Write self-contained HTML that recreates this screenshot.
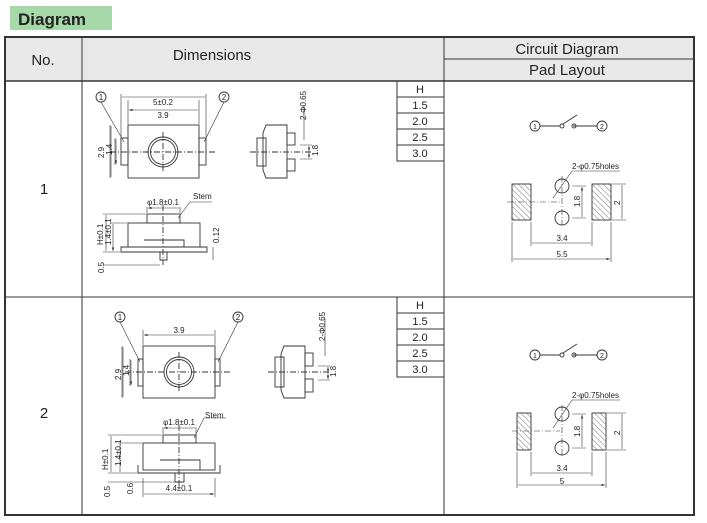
<!DOCTYPE html>
<html><head><meta charset="utf-8"><style>
html,body{margin:0;padding:0;background:#fff;}
svg{display:block;font-family:"Liberation Sans",Arial,sans-serif;}
</style></head><body>
<svg width="707" height="523" viewBox="0 0 707 523" xmlns="http://www.w3.org/2000/svg">
<defs>
<pattern id="h" width="4" height="4" patternUnits="userSpaceOnUse" patternTransform="rotate(-45)"><line x1="0" y1="0" x2="0" y2="4" stroke="#555" stroke-width="0.8"/></pattern>
<marker id="a" markerWidth="6" markerHeight="4" refX="6" refY="2" orient="auto-start-reverse"><path d="M0,0L6,2L0,4z" fill="#333"/></marker>
</defs>
<!-- title -->
<rect x="10" y="6" width="102" height="24" fill="#a7d8a9"/>
<text x="18" y="25" font-size="17" font-weight="bold" fill="#222">Diagram</text>
<!-- table -->
<rect x="5" y="37" width="689" height="44" fill="#e8e8e8"/>
<rect x="5" y="37" width="689" height="478" fill="none" stroke="#333" stroke-width="2"/>
<line x1="82" y1="37" x2="82" y2="515" stroke="#333"/>
<line x1="444" y1="37" x2="444" y2="515" stroke="#333"/>
<line x1="444" y1="59" x2="694" y2="59" stroke="#333"/>
<line x1="5" y1="81" x2="694" y2="81" stroke="#333" stroke-width="1.5"/>
<line x1="5" y1="297" x2="694" y2="297" stroke="#333"/>
<g font-size="15" fill="#222" text-anchor="middle">
<text x="43" y="65">No.</text><text x="212" y="60">Dimensions</text>
<text x="567" y="54">Circuit Diagram</text><text x="567" y="75">Pad Layout</text>
<text x="44" y="194">1</text><text x="44" y="418">2</text>
</g>
<!-- H tables -->
<g font-size="11" fill="#222" text-anchor="middle" stroke-width="1">
<g id="ht">
<path d="M397 81V161H444M397 97H444M397 113H444M397 129H444M397 145H444" stroke="#333" fill="none"/>
<text x="420" y="93">H</text><text x="420" y="109">1.5</text><text x="420" y="125">2.0</text><text x="420" y="141">2.5</text><text x="420" y="157">3.0</text>
</g>
<use href="#ht" y="216"/>
</g>
<!-- Row1 drawings -->
<g fill="none" stroke="#333" stroke-width="0.9" font-size="8" >
<rect x="128" y="125" width="71" height="53"/>
<circle cx="163" cy="152" r="15"/><circle cx="163" cy="152" r="12.5"/>
<rect x="121" y="138" width="7" height="27"/><rect x="199" y="138" width="7" height="27"/>
<path d="M110 152H216M163 132V172" stroke-dasharray="6 2 1 2"/>
<path d="M110 125V178M115 138V165M128 100V124M199 100V124M121 94V137M206 94V137" stroke-width="0.6"/>
<path d="M129 110H198M122 97H205M111 126V177M116 139V164" marker-start="url(#a)" marker-end="url(#a)" stroke-width="0.6"/>
<path d="M101 102L124 142M224 102L204 142" stroke-width="0.6"/>
<circle cx="101" cy="97" r="5"/><circle cx="224" cy="97" r="5"/>
<!-- side -->
<path d="M266 125H287V178H266L263 170V133Z"/><rect x="257" y="138" width="9" height="28"/>
<rect x="287" y="133" width="8" height="12"/><rect x="287" y="159" width="8" height="12"/>
<path d="M250 152H312" stroke-dasharray="6 2 1 2"/>
<path d="M304 105V140M300 145H312M300 159H312" stroke-width="0.6"/>
<path d="M309 146V158" marker-start="url(#a)" marker-end="url(#a)" stroke-width="0.6"/>
<!-- front -->
<rect x="128" y="223" width="72" height="24"/><rect x="147" y="214" width="33" height="9"/>
<path d="M121 247H207V252H121Z M144 240H184V247 M160 252V260H167V252"/>
<path d="M163 205V265" stroke-dasharray="6 2 1 2"/>
<path d="M103 214H146M110 223H127M103 252H120M103 265H160M147 207V213M180 207V213M213 247V260" stroke-width="0.6"/>
<path d="M148 208H179M106 215V251M113 224V251" marker-start="url(#a)" marker-end="url(#a)" stroke-width="0.6"/>
<path d="M178 218L190 202H212" stroke-width="0.6"/>
</g>
<g font-size="8" fill="#222">
<text x="101" y="100" text-anchor="middle">1</text><text x="224" y="100" text-anchor="middle">2</text>
<text x="163" y="105" text-anchor="middle">5±0.2</text><text x="163" y="118" text-anchor="middle">3.9</text>
<text transform="translate(104,158) rotate(-90)">2.9</text><text transform="translate(112,155) rotate(-90)">1.4</text>
<text transform="translate(306,120) rotate(-90)">2-Φ0.65</text><text transform="translate(318,156) rotate(-90)">1.8</text>
<text x="163" y="205" text-anchor="middle">φ1.8±0.1</text><text x="193" y="199">Stem</text>
<text transform="translate(103,245) rotate(-90)">H±0.1</text><text transform="translate(111,245) rotate(-90)">1.4±0.1</text>
<text transform="translate(219,243) rotate(-90)">0.12</text><text transform="translate(104,273) rotate(-90)">0.5</text>
</g>
<!-- Row2 drawings -->
<g fill="none" stroke="#333" stroke-width="0.9">
<rect x="143" y="346" width="72" height="52"/>
<circle cx="179" cy="372" r="15"/><circle cx="179" cy="372" r="12.5"/>
<rect x="138" y="359" width="5" height="27"/><rect x="215" y="359" width="5" height="27"/>
<path d="M125 372H232M179 352V392" stroke-dasharray="6 2 1 2"/>
<path d="M122 346V398M130 359V386M143 330V345M215 330V345" stroke-width="0.6"/>
<path d="M144 335H214M123 347V397M131 360V385" marker-start="url(#a)" marker-end="url(#a)" stroke-width="0.6"/>
<path d="M120 322L140 362M238 322L218 362" stroke-width="0.6"/>
<circle cx="120" cy="317" r="5"/><circle cx="238" cy="317" r="5"/>
<path d="M284 346H305V398H284L281 390V354Z"/><rect x="275" y="357" width="9" height="30"/>
<rect x="305" y="353" width="8" height="13"/><rect x="305" y="379" width="8" height="13"/>
<path d="M268 372H330" stroke-dasharray="6 2 1 2"/>
<path d="M325 318V356M318 366H330M318 380H330" stroke-width="0.6"/>
<path d="M328 367V379" marker-start="url(#a)" marker-end="url(#a)" stroke-width="0.6"/>
<rect x="143" y="443" width="72" height="27"/><rect x="163" y="435" width="33" height="8"/>
<path d="M138 465V473H220V465 M160 460H200V470 M175 473V482H184V473"/>
<path d="M179 425V490" stroke-dasharray="6 2 1 2"/>
<path d="M108 435H162M118 443H142M108 473H137M108 482H175M163 427V434M196 427V434M143 478V497M215 478V497" stroke-width="0.6"/>
<path d="M164 428H195M111 436V472M120 444V472M144 494H214" marker-start="url(#a)" marker-end="url(#a)" stroke-width="0.6"/>
<path d="M194 438L204 418H226" stroke-width="0.6"/>
</g>
<g font-size="8" fill="#222">
<text x="120" y="320" text-anchor="middle">1</text><text x="238" y="320" text-anchor="middle">2</text>
<text x="179" y="333" text-anchor="middle">3.9</text>
<text transform="translate(121,380) rotate(-90)">2.9</text><text transform="translate(129,376) rotate(-90)">1.4</text>
<text transform="translate(325,341) rotate(-90)">2-Φ0.65</text><text transform="translate(336,377) rotate(-90)">1.8</text>
<text x="179" y="425" text-anchor="middle">φ1.8±0.1</text><text x="205" y="418">Stem</text>
<text transform="translate(108,470) rotate(-90)">H±0.1</text><text transform="translate(121,466) rotate(-90)">1.4±0.1</text>
<text transform="translate(133,494) rotate(-90)">0.6</text><text transform="translate(110,497) rotate(-90)">0.5</text>
<text x="179" y="491" text-anchor="middle">4.4±0.1</text>
</g>
<!-- circuit + pads row1 -->
<g id="sw" fill="none" stroke="#333" stroke-width="0.9">
<circle cx="535" cy="126" r="5"/><circle cx="602" cy="126" r="5"/>
<path d="M540 126H560M573 126H597M563 124L577 115"/>
<circle cx="562" cy="126" r="2"/><circle cx="574" cy="126" r="2"/>
</g>
<g font-size="7" fill="#222" text-anchor="middle"><text x="535" y="129">1</text><text x="602" y="129">2</text>
<text x="535" y="358">1</text><text x="602" y="358">2</text></g>
<use href="#sw" y="229"/>
<g stroke="#333" stroke-width="0.9">
<rect x="512" y="184" width="19" height="36" fill="url(#h)"/><rect x="592" y="184" width="19" height="36" fill="url(#h)"/>
<g fill="none"><circle cx="562" cy="186" r="7"/><circle cx="562" cy="218" r="7"/>
<path d="M507 202H560M562 176V225" stroke-dasharray="6 2 1 2" stroke-width="0.6"/>
<path d="M553 198L572 171H620M572 186H586M572 218H586M612 184H626M612 220H626M531 222V246M592 222V246M512 222V262M611 222V262" stroke-width="0.6"/>
<path d="M582 187V217M622 185V219M532 243H591M513 259H610" marker-start="url(#a)" marker-end="url(#a)" stroke-width="0.6"/></g>
<rect x="517" y="413" width="14" height="37" fill="url(#h)"/><rect x="592" y="413" width="14" height="37" fill="url(#h)"/>
<g fill="none"><circle cx="562" cy="414" r="7"/><circle cx="562" cy="448" r="7"/>
<path d="M512 431H560M562 405V456" stroke-dasharray="6 2 1 2" stroke-width="0.6"/>
<path d="M553 428L572 400H620M572 414H586M572 448H586M607 413H626M607 450H626M531 452V476M592 452V476M517 452V488M606 452V488" stroke-width="0.6"/>
<path d="M582 415V447M622 414V449M532 473H591M518 485H605" marker-start="url(#a)" marker-end="url(#a)" stroke-width="0.6"/></g>
</g>
<g font-size="8" fill="#222">
<text x="572" y="169">2-φ0.75holes</text><text x="562" y="241" text-anchor="middle">3.4</text><text x="562" y="257" text-anchor="middle">5.5</text>
<text transform="translate(580,207) rotate(-90)">1.8</text><text transform="translate(620,205) rotate(-90)">2</text>
<text x="572" y="398">2-φ0.75holes</text><text x="562" y="471" text-anchor="middle">3.4</text><text x="562" y="484" text-anchor="middle">5</text>
<text transform="translate(580,437) rotate(-90)">1.8</text><text transform="translate(620,435) rotate(-90)">2</text>
</g>
</svg>
</body></html>
